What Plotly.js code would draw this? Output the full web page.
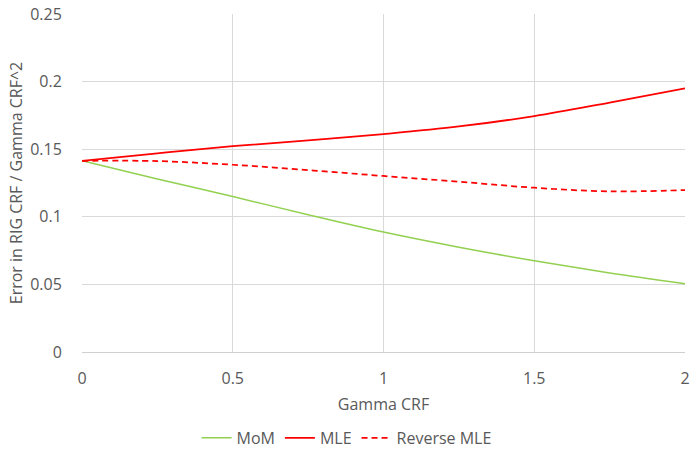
<!DOCTYPE html>
<html><head><meta charset="utf-8">
<script src="https://cdn.plot.ly/plotly-3.0.1.min.js"></script>
<style>body{margin:0;background:#fff}#chart{width:693px;height:450px}</style>
</head><body><div id="chart"></div>
<script>
const gammaCRF = [0, 0.25, 0.5, 0.75, 1, 1.25, 1.5, 1.75, 2];
const mom = [0.1414, 0.128, 0.115, 0.1015, 0.0887, 0.0775, 0.0675, 0.0585, 0.0505];
const mle = [0.1414, 0.147, 0.1522, 0.1565, 0.1612, 0.1668, 0.1745, 0.1845, 0.195];
const reverseMle = [0.1414, 0.1412, 0.1385, 0.1345, 0.1302, 0.126, 0.1215, 0.1188, 0.1198];
const seriesNames = ['MoM', 'MLE', 'Reverse MLE'];

const font = {family: 'Open Sans, Liberation Sans, sans-serif', size: 16, color: '#595959'};
const traces = [
  {x: gammaCRF, y: mom, name: seriesNames[0], mode: 'lines', line: {color: '#92d050', width: 1.5, shape: 'spline'}},
  {x: gammaCRF, y: mle, name: seriesNames[1], mode: 'lines', line: {color: '#ff0000', width: 1.75, shape: 'spline'}},
  {x: gammaCRF, y: reverseMle, name: seriesNames[2], mode: 'lines', line: {color: '#ff0000', width: 1.75, dash: '6px,4px', shape: 'spline'}}
];
const layout = {
  width: 693, height: 450,
  margin: {l: 82, r: 8, t: 14, b: 98},
  paper_bgcolor: '#fff', plot_bgcolor: '#fff',
  font: font,
  showlegend: true,
  legend: {orientation: 'h', xref: 'container', x: 0.5, xanchor: 'center', yref: 'container', y: 0.027, yanchor: 'middle', font: font, itemwidth: 30},
  xaxis: {
    range: [0, 2], tickvals: [0, 0.5, 1, 1.5, 2], ticktext: ['0', '0.5', '1', '1.5', '2'],
    showgrid: true, gridcolor: '#d9d9d9', gridwidth: 1, automargin: false,
    zeroline: false, showline: true, linecolor: '#d0d0d0', linewidth: 1,
    ticks: 'outside', ticklen: 12, tickcolor: 'rgba(0,0,0,0)',
    title: {text: 'Gamma CRF', font: font, standoff: 10}
  },
  yaxis: {
    range: [0, 0.25], tickvals: [0, 0.05, 0.1, 0.15, 0.2, 0.25], ticktext: ['0', '0.05', '0.1', '0.15', '0.2', '0.25'],
    showgrid: true, gridcolor: '#d9d9d9', gridwidth: 1, automargin: false,
    zeroline: false, showline: false,
    ticks: 'outside', ticklen: 16, tickcolor: 'rgba(0,0,0,0)',
    title: {text: 'Error in RIG CRF / Gamma CRF^2', font: font, standoff: 3}
  }
};
Plotly.newPlot('chart', traces, layout, {displayModeBar: false, staticPlot: true});
</script></body></html>
